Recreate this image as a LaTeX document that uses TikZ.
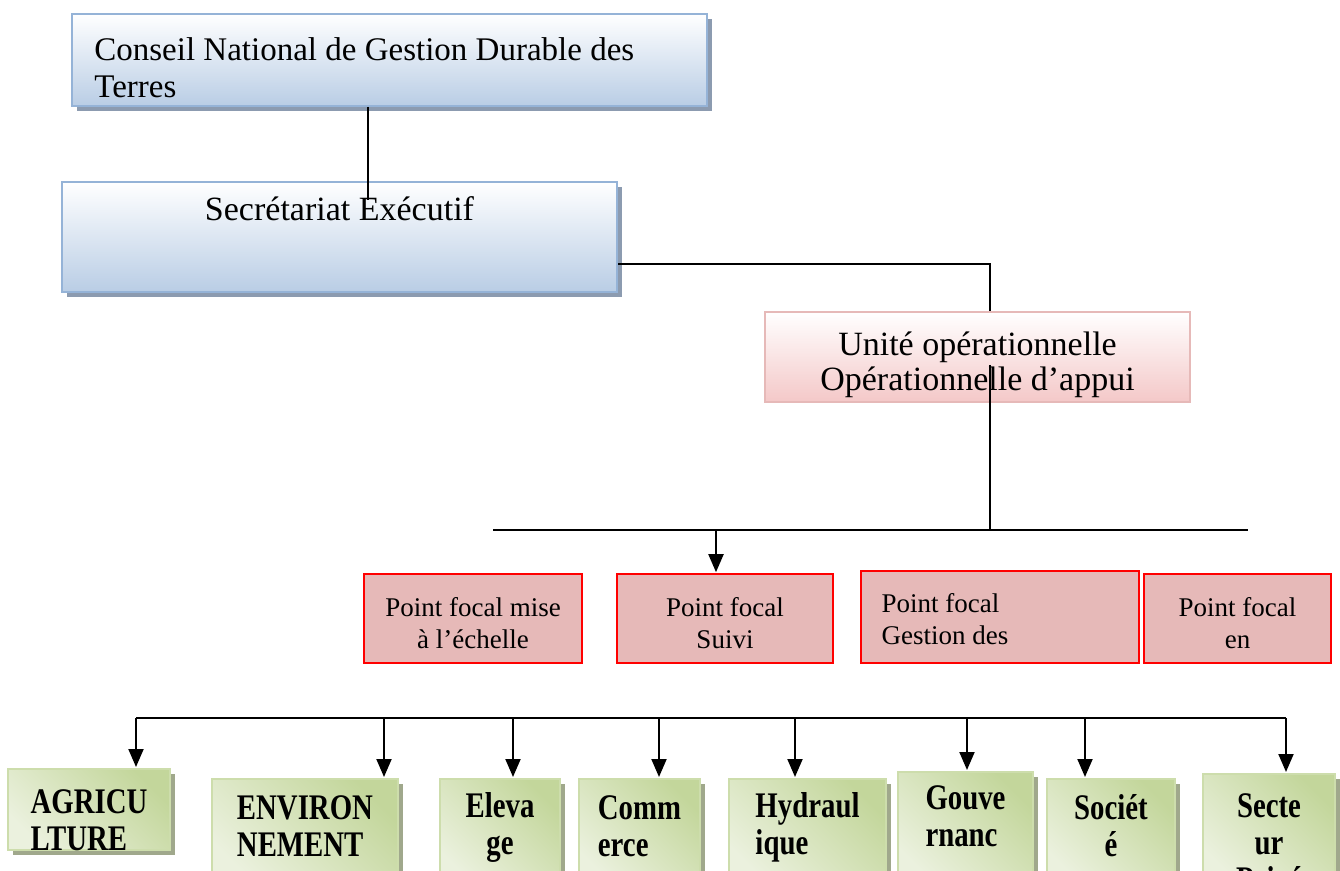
\documentclass[tikz,border=0pt]{standalone}
\usepackage{fontspec}
\setmainfont{Liberation Serif}
\newfontfamily\sectorfont[FakeStretch=0.8]{Liberation Serif}
\usetikzlibrary{fit,shadows,arrows.meta}
\definecolor{cn-blueline}{RGB}   {149, 179, 215}
\definecolor{cn-bluefill}{RGB}   {185, 205, 229}
\definecolor{cn-blueshadow}{RGB} {140, 155, 176}
\definecolor{cn-pinkline}{RGB}   {230, 185, 184}
\definecolor{cn-pinkfill}{RGB}   {244, 200, 200}
\definecolor{cn-focal}{RGB}      {230, 185, 184}
\definecolor{cn-red}{RGB}        {255,   0,   0}
\definecolor{cn-greenline}{RGB}  {205, 221, 172}
\definecolor{cn-greendark}{RGB}  {195, 214, 155}
\definecolor{cn-greenlight}{RGB} {235, 241, 222}
\definecolor{cn-greenshadow}{RGB}{160, 168, 140}

\tikzset{
	council/.style={draw=cn-blueline, line width=1pt, inner sep=0pt, top color=white, bottom color=cn-bluefill,
		drop shadow={shadow xshift=2.5pt, shadow yshift=-2.5pt, fill=cn-blueshadow, opacity=1}},
	unit/.style={draw=cn-pinkline, line width=0.8pt, inner sep=0pt, top color=white, bottom color=cn-pinkfill},
	focal/.style={draw=cn-red, line width=0.8pt, fill=cn-focal, inner sep=0pt},
	sector/.style={draw=cn-greenline, line width=1pt, inner sep=0pt,
		top color=cn-greendark, bottom color=cn-greenlight, shading angle=-45,
		drop shadow={shadow xshift=2.5pt, shadow yshift=-2.5pt, fill=cn-greenshadow, opacity=1}},
	bigtext/.style={inner sep=0pt, font=\fontsize{16.5}{18.5}\selectfont},
	unittext/.style={inner sep=0pt, font=\fontsize{17}{17.5}\selectfont, align=center},
	focaltext/.style={inner sep=0pt, font=\fontsize{13.5}{16}\selectfont, align=center},
	sectortext/.style={inner sep=0pt, font=\sectorfont\bfseries\fontsize{18}{18.5}\selectfont},
	link/.style={line width=0.75pt},
	bus/.style={line width=1pt},
	feed/.style={line width=1pt, -{Triangle[length=9pt,width=7.5pt]}, shorten >=0.5pt},
}

\begin{document}
\begin{tikzpicture}[x=0.5pt, y=-0.5pt]
\useasboundingbox (0,0) rectangle (1340,871);
\clip (0,0) rectangle (1340,871);

% top of the chart
\node[council, fit={(72,14) (707,106)}] (cn) {};
\node[bigtext, align=left, anchor=west] (cn-t) at ([xshift=11.5pt, yshift=-4pt]cn.west) {Conseil National de Gestion Durable des\\Terres};
\node[council, fit={(62,182) (617,292)}] (se) {};
\node[bigtext, font=\fontsize{17}{18}\selectfont] (se-t) at ([yshift=-14pt]se.north) {Secrétariat Exécutif};
\node[unit, fit={(765,312) (1190,402)}] (uo) {};
\node[unittext] (uo-t) at ([yshift=-3.75pt]uo.center) {Unité opérationnelle\\Opérationnelle d’appui};

% focal points
\node[focal, fit={(364,574) (582,663)}] (fp-scale) {};
\node[focal, fit={(617,574) (833,663)}] (fp-suivi) {};
\node[focal, fit={(861,571) (1139,663)}] (fp-gestion) {};
\node[focal, fit={(1144,574) (1331,663)}] (fp-en) {};
\node[focaltext] (fp-scale-t) at ([yshift=-2.25pt]fp-scale.center) {Point focal mise\\à l’échelle};
\node[focaltext] (fp-suivi-t) at ([yshift=-2.25pt]fp-suivi.center) {Point focal\\Suivi};
\node[focaltext, align=left, anchor=west] (fp-gestion-t) at ([xshift=10.5pt, yshift=-1pt]fp-gestion.west) {Point focal\\Gestion des};
\node[focaltext] (fp-en-t) at ([yshift=-2.25pt]fp-en.center) {Point focal\\en};

% sectors
\node[sector, fit={(8,769) (170,850)}] (agri) {};
\node[sector, fit={(212,779) (398,885)}] (envi) {};
\node[sector, fit={(440,779) (560,885)}] (elev) {};
\node[sector, fit={(579,779) (700,885)}] (comm) {};
\node[sector, fit={(729,779) (886,885)}] (hydr) {};
\node[sector, fit={(898,772) (1033,885)}] (gouv) {};
\node[sector, fit={(1047,779) (1175,885)}] (soci) {};
\node[sector, fit={(1203,774) (1335,885)}] (priv) {};
\node[sectortext, align=left] (agri-t) at ([yshift=-26pt]agri.north) {AGRICU\\LTURE};
\node[sectortext, align=left] (envi-t) at ([yshift=-24pt]envi.north) {ENVIRON\\NEMENT};
\node[sectortext, align=center] (elev-t) at ([yshift=-24.5pt]elev.north) {Eleva\\ge};
\node[sectortext, align=left] (comm-t) at ([yshift=-24pt]comm.north) {Comm\\erce};
\node[sectortext, align=left] (hydr-t) at ([yshift=-24.5pt]hydr.north) {Hydraul\\ique};
\node[sectortext, align=left] (gouv-t) at ([yshift=-22.5pt]gouv.north) {Gouve\\rnanc};
\node[sectortext, align=center] (soci-t) at ([yshift=-24pt]soci.north) {Sociét\\é};
\node[sectortext, align=center] (priv-t) at ([yshift=-35pt]priv.north) {Secte\\ur\\Privé};

% connectors
\coordinate (se-in) at (368,200);
\draw[link] (cn.south -| se-in) -- (se-in);
\coordinate (se-out) at (se.east |- 0,264);
\coordinate (uo-in) at (990,365);
\draw[link] (se-out) -| (uo.north -| uo-in);
\coordinate (bus1-w) at (493,530);
\coordinate (bus1-e) at (1248,530);
\draw[link] (uo-in) -- (uo-in |- bus1-w);
\draw[bus] (bus1-w) -- (bus1-e);
\draw[feed] (716,0 |- bus1-w) -- (716,0 |- fp-suivi.north);

\coordinate (bus2-w) at (136,718);
\coordinate (bus2-e) at (1286,718);
\draw[bus] (bus2-w) -- (bus2-e);
\draw[feed] (bus2-w) -- (bus2-w |- agri.north);
\draw[feed] (384,0 |- bus2-w) -- (384,0 |- envi.north);
\draw[feed] (513,0 |- bus2-w) -- (513,0 |- elev.north);
\draw[feed] (659,0 |- bus2-w) -- (659,0 |- comm.north);
\draw[feed] (795,0 |- bus2-w) -- (795,0 |- hydr.north);
\draw[feed] (967,0 |- bus2-w) -- (967,0 |- gouv.north);
\draw[feed] (1085,0 |- bus2-w) -- (1085,0 |- soci.north);
\draw[feed] (bus2-e) -- (bus2-e |- priv.north);

\end{tikzpicture}
\end{document}
